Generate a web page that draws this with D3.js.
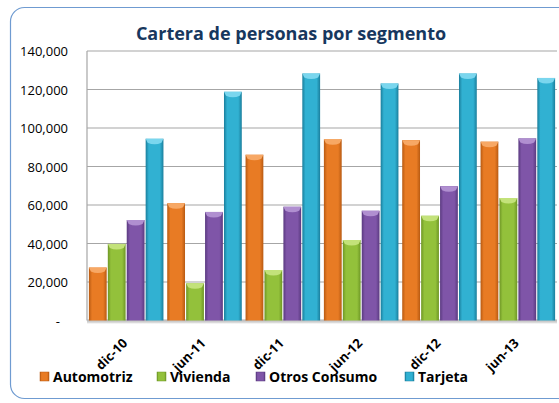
<!DOCTYPE html>
<html><head><meta charset="utf-8">
<script src="https://cdn.jsdelivr.net/npm/d3@7/dist/d3.min.js"></script>
<style>body{margin:0;background:#fff;} svg{display:block;font-family:"Open Sans","Liberation Sans",sans-serif;}</style>
</head><body>
<svg id="c" width="559" height="403"></svg>
<script>
const categories = ["dic-10","jun-11","dic-11","jun-12","dic-12","jun-13"];
const seriesNames = ["Automotriz","Vivienda","Otros Consumo","Tarjeta"];
const automotriz = [27500, 60900, 86100, 94100, 93700, 92900];
const vivienda   = [39800, 19300, 26200, 41800, 54400, 63600];
const otros      = [52200, 56400, 59100, 57000, 69800, 94600];
const tarjeta    = [94400, 118800, 128300, 123100, 128300, 126000];
const yTicks = [0,20000,40000,60000,80000,100000,120000,140000];
const colors = ["#E87B24","#93C13B","#7F55A8","#31B1D2"];
const dark   = ["#B85A12","#6E9625","#5A3A80","#1A7E9C"];
const light  = ["#F7A865","#C3E27A","#B08FD0","#7AD6EE"];
const series = [automotriz, vivienda, otros, tarjeta];

const svg = d3.select("#c");
const defs = svg.append("defs");
colors.forEach((c,i)=>{
  const g = defs.append("linearGradient").attr("id","g"+i).attr("x1","0").attr("x2","1").attr("y1","0").attr("y2","0");
  g.append("stop").attr("offset","0%").attr("stop-color",dark[i]);
  g.append("stop").attr("offset","18%").attr("stop-color",c);
  g.append("stop").attr("offset","50%").attr("stop-color",c);
  g.append("stop").attr("offset","80%").attr("stop-color",c);
  g.append("stop").attr("offset","100%").attr("stop-color",dark[i]);
});
const fl = defs.append("linearGradient").attr("id","floor").attr("x1","0").attr("x2","0").attr("y1","0").attr("y2","1");
fl.append("stop").attr("offset","0%").attr("stop-color","#B0B0B0");
fl.append("stop").attr("offset","100%").attr("stop-color","#E8E8E8");

// outer border
svg.append("rect").attr("x",10.5).attr("y",7.5).attr("width",570).attr("height",391)
  .attr("rx",14).attr("fill","#fff").attr("stroke","#6F9BD1").attr("stroke-width",1.2);

const L=87, R=557, T=51, B=320.5;
const x = d3.scaleBand().domain(categories).range([L,R]).paddingInner(0).paddingOuter(0);
const xi = d3.scaleBand().domain(seriesNames).range([0,x.bandwidth()]).paddingInner(0.06).paddingOuter(0.1);
const y = d3.scaleLinear().domain([0,140000]).range([B,T]);

// gridlines
svg.append("g").selectAll("line").data(yTicks.filter(d=>d>0)).join("line")
  .attr("x1",L).attr("x2",R).attr("y1",d=>y(d)).attr("y2",d=>y(d))
  .attr("stroke","#A6A6A6").attr("stroke-width",1.2);
// left wall
svg.append("line").attr("x1",L).attr("x2",L).attr("y1",T).attr("y2",B).attr("stroke","#A6A6A6").attr("stroke-width",1.2);
// floor
svg.append("rect").attr("x",L).attr("y",B-1).attr("width",R-L).attr("height",4).attr("fill","url(#floor)");

// y axis labels
const yAxis = d3.axisLeft(y).tickValues(yTicks).tickSize(0).tickPadding(0)
  .tickFormat(d=> d===0 ? "-" : d3.format(",")(d));
const ya = svg.append("g").attr("transform",`translate(68,0)`).call(yAxis);
ya.select(".domain").remove();
ya.selectAll("text").attr("font-size",13).attr("fill","#000").attr("dy","0.35em")
  .attr("font-family","'Open Sans',sans-serif");
ya.selectAll(".tick").filter(d=>d===0).select("text").attr("dx",-8);

// bars
const g = svg.append("g");
categories.forEach((cat,ci)=>{
  seriesNames.forEach((s,si)=>{
    const v = series[si][ci];
    const bx = x(cat)+xi(s), bw = xi.bandwidth();
    g.append("rect").attr("x",bx).attr("y",y(v)).attr("width",bw).attr("height",B-y(v))
      .attr("fill",`url(#g${si})`);
    g.append("path")
      .attr("d",`M${bx},${y(v)} L${bx+bw},${y(v)} L${bx+bw-2},${y(v)+4} Q${bx+bw/2},${y(v)+7} ${bx+2},${y(v)+4} Z`)
      .attr("fill",light[si]);
  });
});

// x labels
const xa = svg.append("g");
categories.forEach(cat=>{
  const cx = x(cat)+x.bandwidth()/2 + 2;
  xa.append("text").attr("transform",`translate(${cx},344) rotate(-45)`)
    .attr("text-anchor","end").attr("font-size",13).attr("font-weight","bold").text(cat);
});

// title
svg.append("text").attr("x",291).attr("y",40).attr("text-anchor","middle")
  .attr("font-size",18).attr("font-weight","bold").attr("fill","#17375E").text("Cartera de personas por segmento");

// legend
const legX = [40,157,256,405];
seriesNames.forEach((s,i)=>{
  svg.append("rect").attr("x",legX[i]).attr("y",372).attr("width",9).attr("height",9)
    .attr("fill",`url(#g${i})`).attr("stroke",dark[i]).attr("stroke-width",0.5);
  svg.append("text").attr("x",legX[i]+13).attr("y",382).attr("font-size",14).attr("font-weight","bold").text(s);
});
</script>
</body></html>
